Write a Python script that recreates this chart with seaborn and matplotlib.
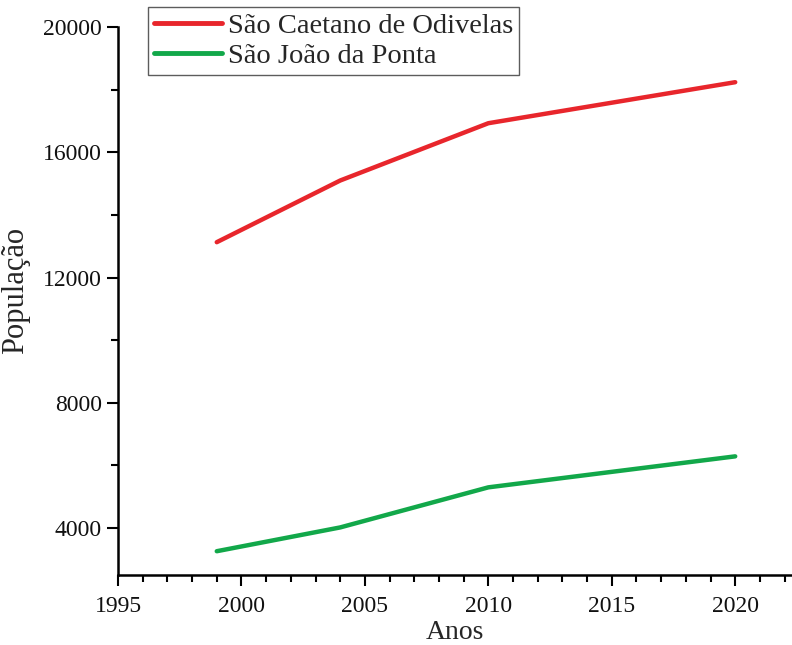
import pandas as pd
import matplotlib.pyplot as plt
import seaborn as sns
from matplotlib.ticker import MultipleLocator

# values
anos = [1999, 2004, 2010, 2020]
pop_caetano = [13130, 15100, 16930, 18240]
pop_joao = [3260, 4020, 5300, 6290]
series = ['São Caetano de Odivelas', 'São João da Ponta']

df = pd.DataFrame({
    'Anos': anos * 2,
    'População': pop_caetano + pop_joao,
    'Município': [series[0]] * len(anos) + [series[1]] * len(anos),
})

sns.set_theme(style='ticks')
plt.rcParams['font.family'] = ['Liberation Serif', 'DejaVu Serif']

fig = plt.figure(figsize=(7.92, 6.45), dpi=100)
ax = fig.add_axes([0.149, 0.1085, 0.851, 0.8495])

sns.lineplot(data=df, x='Anos', y='População', hue='Município',
             palette=['#e8262c', '#12a84a'], linewidth=3.2, ax=ax)

ax.set_xlim(1995, 2022.3)
ax.set_ylim(2500, 20000)
ax.xaxis.set_major_locator(MultipleLocator(5))
ax.xaxis.set_minor_locator(MultipleLocator(1))
ax.yaxis.set_major_locator(MultipleLocator(4000))
ax.yaxis.set_minor_locator(MultipleLocator(2000))
ax.tick_params(which='major', length=8, width=1.5, labelsize=17, color='black', labelcolor='#111111')
ax.tick_params(axis='x', which='major', pad=7)
ax.tick_params(which='minor', length=5, width=1.5, color='black')

sns.despine(ax=ax)
for s in ['left', 'bottom']:
    ax.spines[s].set_linewidth(1.8)
    ax.spines[s].set_color('black')

ax.set_xlabel('Anos', fontsize=20, labelpad=2)
ax.set_ylabel('População', fontsize=22)
ax.yaxis.set_label_coords(-0.13, 0.52)

leg = ax.legend(loc='upper left', bbox_to_anchor=(0.0445, 1.0365), fontsize=20.5,
                frameon=True, fancybox=False, edgecolor='#333333',
                handlelength=2.4, handletextpad=0.2, borderpad=0.2,
                labelspacing=0.15, borderaxespad=0)
leg.get_frame().set_linewidth(1.0)
for line in leg.get_lines():
    line.set_linewidth(3.5)

fig.savefig('out.png', dpi=100)
